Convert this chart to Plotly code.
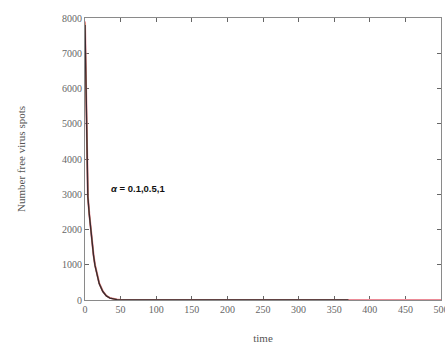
import plotly.graph_objects as go

# time points and values
t_red = [0, 0.5, 1, 1.5, 2, 2.5, 3, 3.5, 4, 6, 8, 10, 12, 14, 17, 20, 25, 30, 35, 40, 45, 50, 60, 100, 200, 300, 400, 500]
y_red = [7900, 7200, 6400, 5600, 4800, 4100, 3500, 3100, 2950, 2450, 2000, 1600, 1280, 1000, 700, 480, 250, 120, 60, 28, 12, 5, 1, 0, 0, 0, 0, 0]

t_tan = [0, 0.5, 1, 1.5, 2, 2.5, 3, 3.5, 4, 6, 8, 10, 12, 14, 17, 20, 25, 30, 35, 40, 45, 50, 60, 100, 200, 300, 370]
y_tan = [7850, 7100, 6300, 5500, 4700, 4000, 3450, 3080, 2940, 2440, 1990, 1590, 1270, 990, 690, 470, 245, 118, 58, 27, 11, 5, 1, 0, 0, 0, 0]

t_blk = [0, 0.5, 1, 1.5, 2, 2.5, 3, 3.5, 4, 6, 8, 10, 12, 14, 17, 20, 25, 30, 35, 40, 45, 50, 60, 100, 200, 300, 370]
y_blk = [7800, 7000, 6200, 5400, 4600, 3900, 3400, 3050, 2930, 2430, 1980, 1580, 1260, 980, 680, 460, 240, 115, 55, 26, 10, 4, 1, 0, 0, 0, 0]

x_ticks = [0, 50, 100, 150, 200, 250, 300, 350, 400, 450, 500]
y_ticks = [0, 1000, 2000, 3000, 4000, 5000, 6000, 7000, 8000]

fig = go.Figure()
fig.add_trace(go.Scatter(x=t_red, y=y_red, mode="lines", line=dict(color="#ec8a96", width=2), showlegend=False, cliponaxis=False))
fig.add_trace(go.Scatter(x=t_tan, y=y_tan, mode="lines", line=dict(color="#c8925a", width=1.2), showlegend=False, cliponaxis=False))
fig.add_trace(go.Scatter(x=t_blk, y=y_blk, mode="lines", line=dict(color="#3a2a30", width=1.4), showlegend=False, cliponaxis=False))

fig.add_annotation(x=33, y=3150, text="<b><i>α</i> = 0.1,0.5,1</b>", showarrow=False,
                   xanchor="left", yanchor="middle",
                   font=dict(family="Liberation Sans, Arial", size=9.5, color="#111"))

axis_common = dict(showline=True, linecolor="#8a8a8a", linewidth=1, mirror="ticks",
                   ticks="inside", ticklen=4, tickcolor="#666", showgrid=False, zeroline=False,
                   layer="below traces", ticklabeloverflow="allow", automargin=False,
                   tickfont=dict(family="Liberation Serif, Times New Roman", size=10, color="#666"))

fig.update_xaxes(range=[0, 500], tickvals=x_ticks, ticktext=[str(v) for v in x_ticks],
                 title=dict(text="time", font=dict(family="Liberation Serif, Times New Roman", size=11, color="#555"), standoff=20),
                 **axis_common)
fig.update_yaxes(range=[0, 8000], tickvals=y_ticks, ticktext=[str(v) for v in y_ticks],
                 title=dict(text="Number free virus spots", font=dict(family="Liberation Serif, Times New Roman", size=11, color="#555"), standoff=34),
                 **axis_common)

fig.update_layout(width=445, height=344, margin=dict(l=85, r=4, t=18, b=44),
                  plot_bgcolor="white", paper_bgcolor="white")

fig.write_html("out.html")
